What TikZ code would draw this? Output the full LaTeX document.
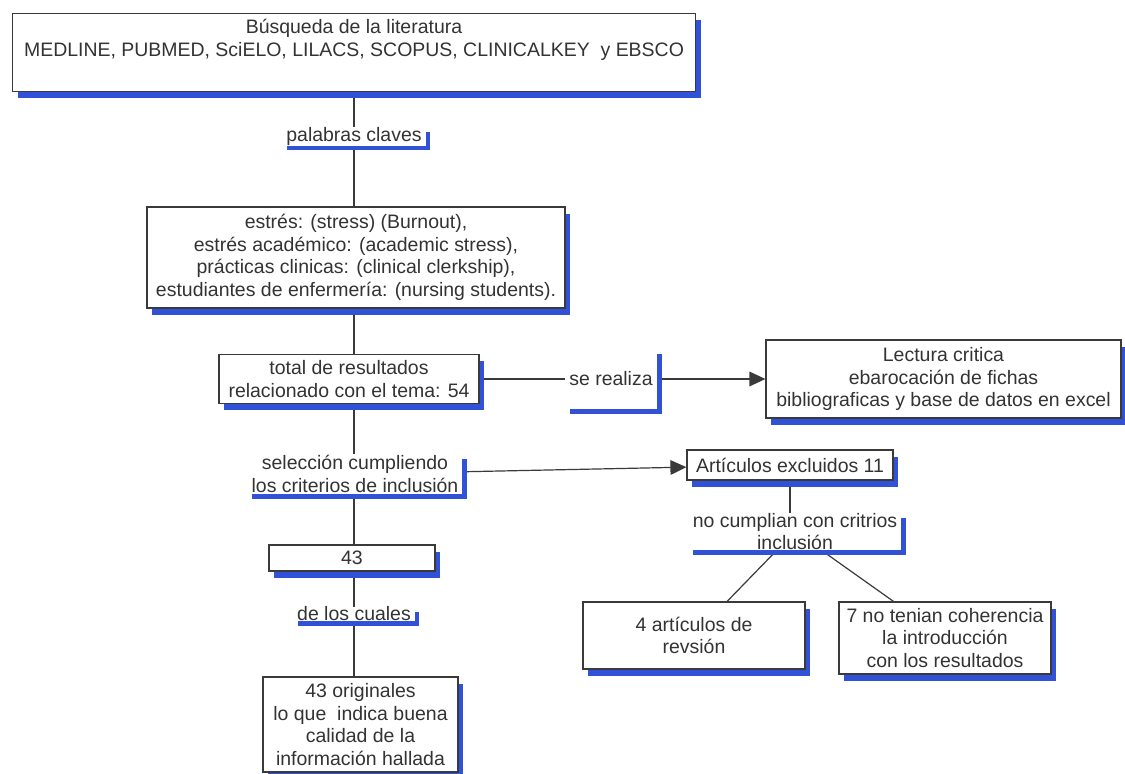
\documentclass[tikz,border=0pt]{standalone}
\usepackage{fontspec}
\setmainfont{Liberation Sans}
\usetikzlibrary{shadows,backgrounds,arrows.meta}
\definecolor{textcol}{HTML}{333333}
\definecolor{linecol}{HTML}{3A3A3A}
\definecolor{shadowcol}{HTML}{3152D6}

\begin{document}
\begin{tikzpicture}[x=0.75pt,y=-0.75pt,
	every node/.style={font=\fontsize{14.6pt}{16.9pt}\selectfont,text=textcol,align=center,inner sep=0pt},
	concepto/.style={draw=linecol,line width=0.9pt,fill=white,
		drop shadow={shadow xshift=4pt,shadow yshift=-5pt,fill=shadowcol,opacity=1}},
	enlace/.style={fill=white,inner xsep=3pt,
		drop shadow={shadow xshift=3.5pt,shadow yshift=-3.5pt,fill=shadowcol,opacity=1}},
	conector/.style={draw=linecol,line width=0.9pt},
	flecha/.style={conector,-{Triangle[length=12pt,width=11pt]}}]
\path[use as bounding box] (0,0) rectangle (1125,774);
\coordinate (eje) at (354,0);

% columna principal
\node[concepto,minimum width=512pt,minimum height=59pt] (busq) at (354,52.5)
	{Búsqueda de la literatura\\MEDLINE, PUBMED, SciELO, LILACS, SCOPUS, CLINICALKEY\ \ y EBSCO\\\strut};
\node[enlace] (palabras) at (354,136.5) {palabras claves};
\node[concepto,minimum width=313.5pt,minimum height=75.75pt] (claves) at (356,257.5)
	{estrés: (stress) (Burnout),\\estrés académico: (academic stress),\\prácticas clinicas: (clinical clerkship),\\estudiantes de enfermería: (nursing students).};
\node[concepto,minimum width=195pt,minimum height=36.75pt] (total) at (349,379)
	{total de resultados\\relacionado con el tema: 54};
\node[enlace,minimum height=30pt] (selec) at (355,474)
	{selección cumpliendo\\los criterios de inclusión};
\node[concepto,minimum width=124.5pt,minimum height=19.5pt] (n43) at (352,558) {43};
\node[enlace] (cuales) at (354,614) {de los cuales};
\node[concepto,minimum width=146.25pt,minimum height=71.25pt] (orig) at (360.5,724.5)
	{43 originales\\lo que\ \ indica buena\\calidad de la\\información hallada};

% rama derecha
\node[enlace,minimum width=69pt,minimum height=45pt] (sereal) at (611,379) {se realiza};
\node[concepto,minimum width=266.25pt,minimum height=58.5pt] (lectura) at (943.5,379)
	{Lectura critica\\ebarocación de fichas\\bibliograficas y base de datos en excel};
\node[concepto,minimum width=154.5pt,minimum height=22.5pt] (excl) at (790,465) {Artículos excluidos 11};
\node[enlace,minimum height=27.75pt] (nocump) at (795,531.5) {no cumplian con critrios\\inclusión};
\node[concepto,minimum width=166.5pt,minimum height=50.25pt] (rev) at (694,635.5) {4 artículos de\\revsión};
\node[concepto,minimum width=159pt,minimum height=54pt] (coher) at (945,638)
	{7 no tenian coherencia\\la introducción\\con los resultados};

\begin{scope}[on background layer]
\fill[white] (0,0) rectangle (1125,774);
\foreach \a/\b in {busq/palabras,palabras/claves,claves/total,total/selec,selec/n43,n43/cuales,cuales/orig}
	\draw[conector] (\a.south -| eje) -- (\b.north -| eje);
\draw[conector] (total.east) -- (sereal.west);
\draw[flecha] (sereal.east) -- (lectura.west);
\draw[flecha] (selec) -- (excl);
\draw[conector] (excl.south) -- (excl.south |- nocump.north);
\draw[conector] (nocump) -- (rev);
\draw[conector] (nocump) -- (coher);
\end{scope}
\end{tikzpicture}
\end{document}
